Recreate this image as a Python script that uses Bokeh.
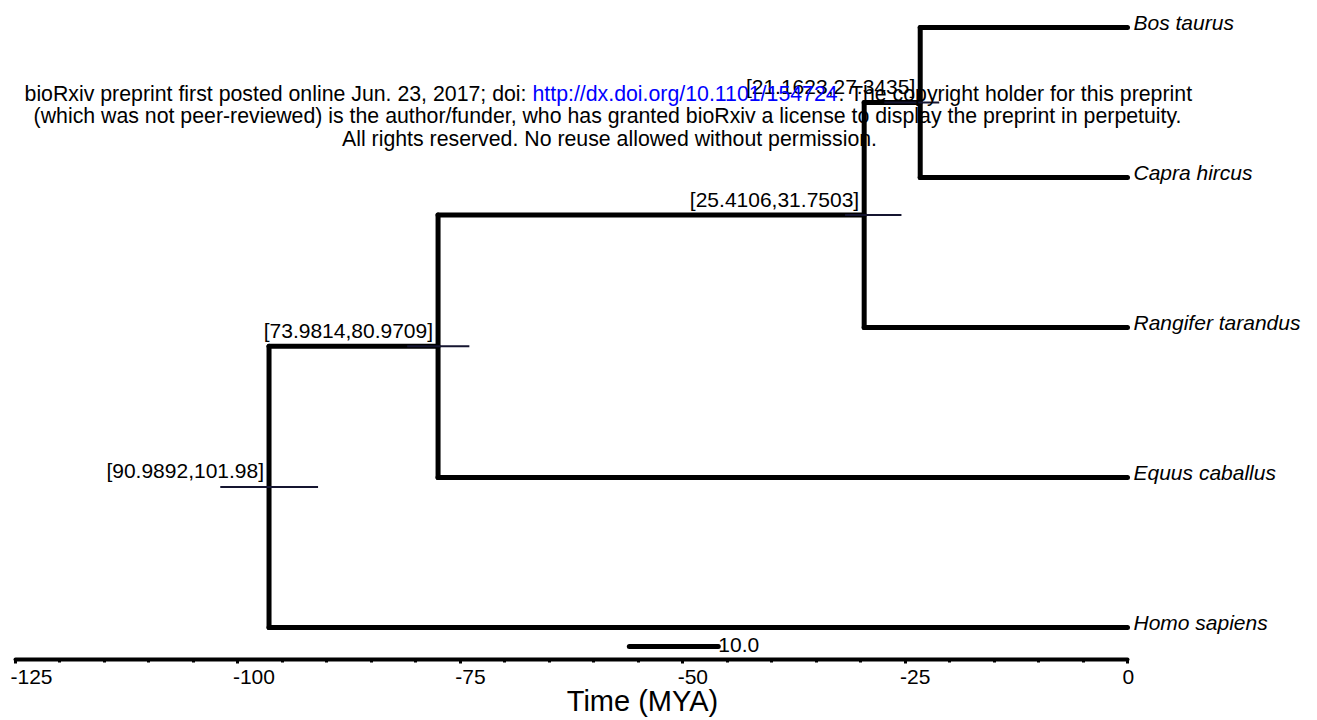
from bokeh.plotting import figure
from bokeh.models import Range1d, LinearAxis, FixedTicker
from bokeh.embed import file_html
from bokeh.resources import INLINE
from bokeh.core.properties import value

# ---------------- data ----------------
tip_names = ["Bos taurus", "Capra hircus", "Rangifer tarandus", "Equus caballus", "Homo sapiens"]
tip_ages = [0.0, 0.0, 0.0, 0.0, 0.0]

node_names = ["C", "B", "A", "Root"]
node_ages = [-23.3, -29.6, -77.5, -96.5]
node_children = [("Bos taurus", "Capra hircus"),
                 ("C", "Rangifer tarandus"),
                 ("B", "Equus caballus"),
                 ("A", "Homo sapiens")]
ci_low = [21.1623, 25.4106, 73.9814, 90.9892]
ci_high = [27.3435, 31.7503, 80.9709, 101.98]
ci_labels = ["[21.1623,27.3435]", "[25.4106,31.7503]", "[73.9814,80.9709]", "[90.9892,101.98]"]

major_ticks = [-125, -100, -75, -50, -25, 0]
major_tick_labels = ["-125", "-100", "-75", "-50", "-25", "0"]
minor_ticks = [-125, -120, -115, -110, -105, -100, -95, -90, -85, -80, -75, -70, -65,
               -60, -55, -50, -45, -40, -35, -30, -25, -20, -15, -10, -5, 0]

scale_bar_start = -56.0
scale_bar_length = 10.0
scale_bar_label = "10.0"
axis_title = "Time (MYA)"

header_line1 = ["bioRxiv preprint first posted online Jun. 23, 2017; doi:",
                "http://dx.doi.org/10.1101/154724",
                ". The copyright holder for this preprint"]
header_line2 = "(which was not peer-reviewed) is the author/funder, who has granted bioRxiv a license to display the preprint in perpetuity."
header_line3 = "All rights reserved. No reuse allowed without permission."

FONT = "Liberation Sans"

# ---------------- layout of tree ----------------
pos = {}
for i, (n, a) in enumerate(zip(tip_names, tip_ages)):
    pos[n] = (a, float(i))
for n, a, (c1, c2) in zip(node_names, node_ages, node_children):
    pos[n] = (a, (pos[c1][1] + pos[c2][1]) / 2.0)

bx0, bx1, by0, by1 = [], [], [], []
for n, a, (c1, c2) in zip(node_names, node_ages, node_children):
    bx0.append(a); bx1.append(a); by0.append(pos[c1][1]); by1.append(pos[c2][1])
    for c in (c1, c2):
        bx0.append(a); bx1.append(pos[c][0]); by0.append(pos[c][1]); by1.append(pos[c][1])

node_y = [pos[n][1] for n in node_names]

p = figure(frame_width=1317, frame_height=719, output_backend="svg", toolbar_location=None,
           x_range=Range1d(-126.686, 21.358), y_range=Range1d(4.6133, -0.18),
           x_axis_type=None, y_axis_type=None,
           min_border_left=0, min_border_right=0, min_border_top=0, min_border_bottom=0)
p.outline_line_color = None
p.grid.visible = False
p.background_fill_color = "white"
p.border_fill_color = "white"

# branches
p.segment(x0=bx0, x1=bx1, y0=by0, y1=by1, line_width=5, line_color="black", line_cap="round")

# CI bars
p.segment(x0=[-h for h in ci_high], x1=[-l for l in ci_low], y0=node_y, y1=node_y,
          line_width=2, line_color="#151530")

# node labels
p.text(x=node_ages, y=node_y, text=ci_labels, text_align="right", text_baseline="alphabetic",
       x_offset=-5, y_offset=-16, text_font=value(FONT), text_font_size="21px", text_color="black")

# tip labels
p.text(x=tip_ages, y=list(range(len(tip_names))), text=tip_names, text_align="left",
       text_baseline="middle", x_offset=6, y_offset=-5, text_font=value(FONT),
       text_font_style="italic", text_font_size="21px", text_color="black")

# scale bar
sb_y = 4.1267
p.segment(x0=[scale_bar_start], x1=[scale_bar_start + scale_bar_length], y0=[sb_y], y1=[sb_y],
          line_width=5, line_color="black", line_cap="round")
p.text(x=[scale_bar_start + scale_bar_length], y=[sb_y], text=[scale_bar_label], text_align="left",
       text_baseline="middle", x_offset=0, y_offset=-2, text_font=value(FONT),
       text_font_size="21px", text_color="black")

# header text
HF = "21.3px"
hy1, hy2, hy3 = 0.44, 0.5933, 0.74
p.text(x=[-67.56], y=[hy1], text=[header_line1[0]], text_align="right", text_baseline="middle",
       text_font=value(FONT), text_font_size=HF, text_color="black")
p.text(x=[-66.884], y=[hy1], text=[header_line1[1]], text_align="left", text_baseline="middle",
       text_font=value(FONT), text_font_size=HF, text_color="#0000ff")
p.text(x=[-32.487], y=[hy1], text=[header_line1[2]], text_align="left", text_baseline="middle",
       text_font=value(FONT), text_font_size=HF, text_color="black")
p.text(x=[-58.45], y=[hy2], text=[header_line2], text_align="center", text_baseline="middle",
       text_font=value(FONT), text_font_size=HF, text_color="black")
p.text(x=[-58.23], y=[hy3], text=[header_line3], text_align="center", text_baseline="middle",
       text_font=value(FONT), text_font_size=HF, text_color="black")

# time axis (drawn at fixed location inside the frame)
axis_y = 4.2133
ax = LinearAxis(ticker=FixedTicker(ticks=major_ticks, minor_ticks=minor_ticks), bounds=(-125, 0),
                fixed_location=axis_y)
ax.axis_line_width = 4
ax.axis_line_color = "black"
ax.axis_line_cap = "round"
ax.major_tick_out = 4
ax.major_tick_in = 0
ax.minor_tick_out = 3
ax.minor_tick_in = 0
ax.major_tick_line_width = 3
ax.minor_tick_line_width = 3
ax.major_label_overrides = {t: "" for t in major_ticks}
ax.major_label_text_font_size = "0px"
p.add_layout(ax, "below")

# tick labels
p.text(x=major_ticks, y=[4.3267] * len(major_ticks), text=major_tick_labels, text_align="left",
       text_baseline="middle", x_offset=-5, text_font=value(FONT), text_font_size="21px",
       text_color="black")

# axis title
p.text(x=[-54.52], y=[4.4867], text=[axis_title], text_align="center", text_baseline="middle",
       text_font=value(FONT), text_font_size="29px", text_color="black")

open("out.html", "w").write(file_html(p, INLINE))
